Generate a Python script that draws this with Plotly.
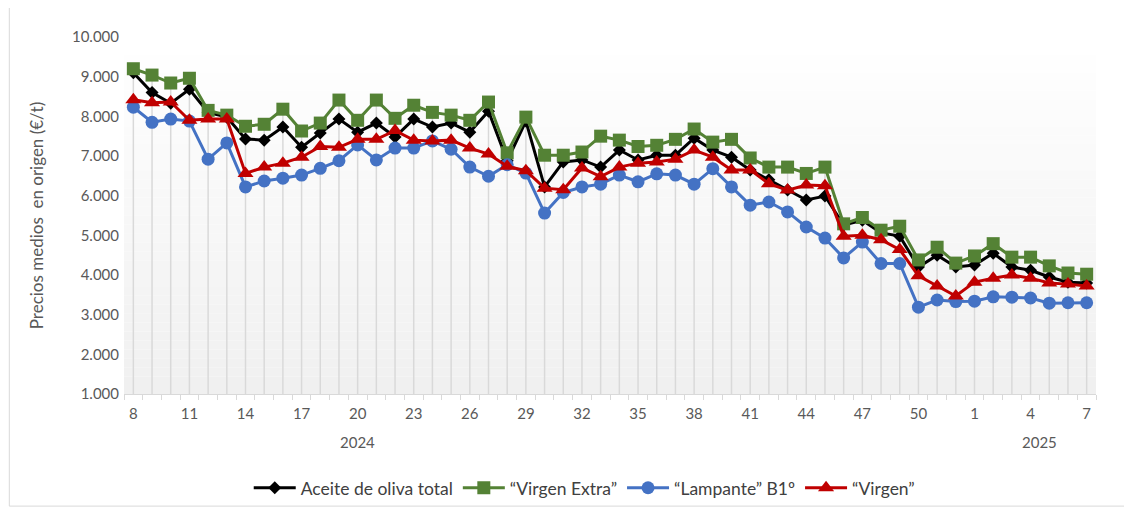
import plotly.graph_objects as go

weeks = [8, 9, 10, 11, 12, 13, 14, 15, 16, 17, 18, 19, 20, 21, 22, 23, 24, 25, 26, 27,
         28, 29, 30, 31, 32, 33, 34, 35, 36, 37, 38, 39, 40, 41, 42, 43, 44, 45, 46, 47,
         48, 49, 50, 51, 52, 1, 2, 3, 4, 5, 6, 7]

total = [9100, 8600, 8330, 8680, 8100, 7980, 7430, 7400, 7730, 7220, 7580, 7930, 7600, 7830, 7480, 7930,
         7730, 7830, 7600, 8130, 6880, 7880, 6220, 6850, 6900, 6720, 7150, 6900, 7020, 7020, 7450, 7150,
         6970, 6650, 6400, 6140, 5890, 5990, 5260, 5380, 5060, 4980, 4200, 4500, 4200, 4250, 4550, 4200,
         4120, 3950, 3820, 3800]
extra = [9200, 9040, 8840, 8960, 8150, 8030, 7750, 7800, 8180, 7630, 7830, 8410, 7900, 8410, 7950, 8280,
         8100, 8030, 7900, 8360, 7080, 7980, 7020, 7020, 7100, 7500, 7400, 7240, 7270, 7420, 7680, 7350,
         7420, 6950, 6720, 6720, 6560, 6720, 5290, 5450, 5130, 5230, 4380, 4700, 4300, 4480, 4790, 4450,
         4450, 4230, 4050, 4020]
lampante = [8230, 7850, 7930, 7880, 6920, 7330, 6220, 6370, 6440, 6520, 6690, 6880, 7280, 6900, 7200, 7200,
            7380, 7170, 6720, 6490, 6780, 6570, 5560, 6080, 6220, 6290, 6520, 6350, 6550, 6520, 6290, 6680,
            6220, 5760, 5840, 5590, 5210, 4930, 4430, 4830, 4290, 4290, 3190, 3370, 3330, 3340, 3450, 3440,
            3420, 3290, 3300, 3300]
virgen = [8420, 8340, 8360, 7900, 7930, 7930, 6560, 6720, 6820, 6970, 7240, 7220, 7420, 7420, 7640, 7400,
          7380, 7400, 7200, 7050, 6740, 6630, 6190, 6150, 6700, 6480, 6720, 6820, 6850, 6920, 7150, 6970,
          6650, 6650, 6300, 6140, 6270, 6250, 4980, 5000, 4890, 4640, 3980, 3720, 3470, 3820, 3920, 4000,
          3920, 3800, 3770, 3720]

series = [
    ("Aceite de oliva total", total, "#000000", "diamond", 10),
    ("\u201cVirgen Extra\u201d", extra, "#548235", "square", 13),
    ("\u201cLampante\u201d B1\u00ba", lampante, "#4472C4", "circle", 13),
    ("\u201cVirgen\u201d", virgen, "#C00000", "triangle-up", 14),
]

tick_every = 3
y_min, y_max = 1000, 10000
years = [("2024", 12), ("2025", 48.5)]

idx = list(range(len(weeks)))
fig = go.Figure()

# drop lines from highest point to axis
dx, dy = [], []
for i in idx:
    top = max(total[i], extra[i], lampante[i], virgen[i])
    dx += [i, i, None]
    dy += [y_min, top, None]
fig.add_trace(go.Scatter(x=dx, y=dy, mode="lines", line=dict(color="#d9d9d9", width=1.5),
                         showlegend=False, hoverinfo="skip"))

for name, vals, col, sym, sz in series:
    fig.add_trace(go.Scatter(
        x=idx, y=vals, name=name, mode="lines+markers",
        line=dict(color=col, width=3),
        marker=dict(symbol=sym, size=sz, color=col),
    ))

# background gradient in plot area
shapes = []
n = 40
for k in range(n):
    t = k / (n - 1)
    c = int(round(255 - (255 - 240) * (1 - t)))
    shapes.append(dict(type="rect", xref="paper", yref="paper",
                       x0=0, x1=1, y0=k / n, y1=(k + 1) / n,
                       fillcolor=f"rgb({c},{c},{c})", line=dict(width=0), layer="below"))
shapes.append(dict(type="rect", xref="paper", yref="paper", x0=-0.118, x1=1.03, y0=-0.314, y1=1.092,
                   line=dict(color="#d9d9d9", width=1), fillcolor="rgba(0,0,0,0)"))

annotations = [dict(text=y, x=xi, xref="x", y=-0.134, yref="paper", showarrow=False,
                    font=dict(size=15, color="#595959"), yanchor="middle") for y, xi in years]

fig.update_layout(
    width=1132, height=509,
    margin=dict(l=116, r=44, t=29, b=123, autoexpand=False),
    paper_bgcolor="white", plot_bgcolor="rgba(0,0,0,0)",
    font=dict(family="Lato, Liberation Sans, sans-serif", color="#595959"),
    separators=",.",
    shapes=shapes,
    annotations=annotations,
    xaxis=dict(
        range=[-0.5, len(weeks) - 0.5], automargin=False,
        tickvals=idx[::tick_every], ticktext=[str(w) for w in weeks[::tick_every]],
        ticks="", showgrid=False, zeroline=False,
        showline=True, linecolor="#d9d9d9", linewidth=1,
        tickfont=dict(size=15, color="#595959"), ticklabelstandoff=6,
        minor=dict(tick0=-0.5, dtick=1, ticks="outside", ticklen=5, tickcolor="#d9d9d9", showgrid=False),
    ),
    yaxis=dict(
        range=[y_min, y_max], dtick=1000, tickformat=",d", automargin=False,
        showgrid=False, zeroline=False, showline=False,
        tickfont=dict(size=15, color="#595959"), ticklabelstandoff=4,
        title=dict(text="Precios medios  en origen (\u20ac/t)", font=dict(size=17, color="#595959"), standoff=24),
    ),
    legend=dict(orientation="h", x=0.474, xanchor="center", y=-0.263, yanchor="middle",
                font=dict(size=17.5, color="#404040"), itemwidth=42, bgcolor="rgba(0,0,0,0)"),
)

fig.write_html("out.html")
